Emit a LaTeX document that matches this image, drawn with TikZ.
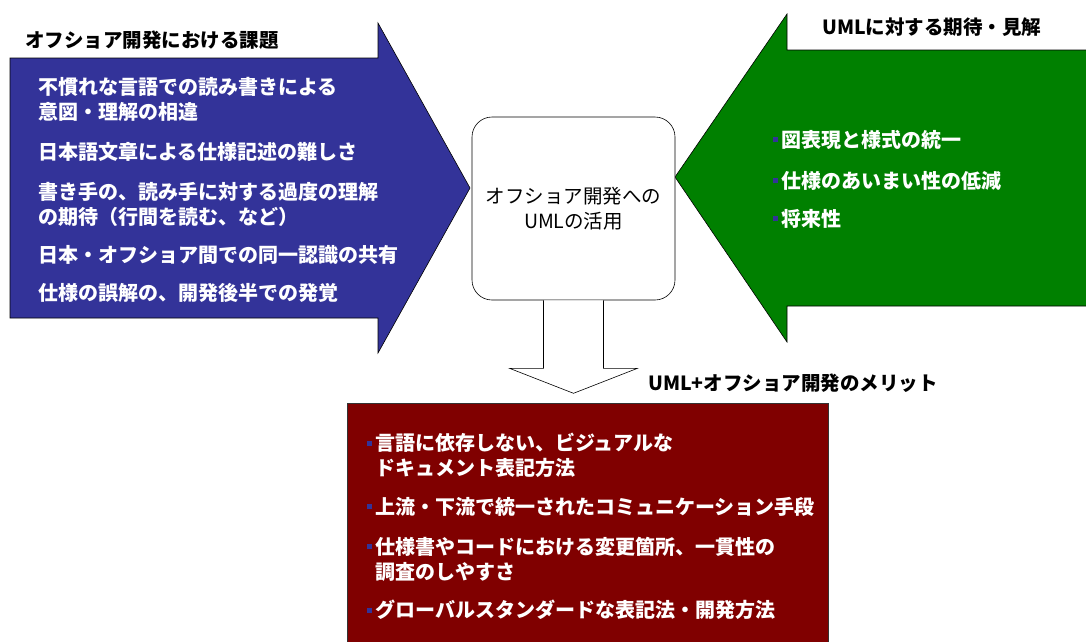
\documentclass[tikz,border=0pt]{standalone}
\usepackage{fontspec}
\setmainfont{Noto Sans CJK JP}
\usepackage{tikz}
\usetikzlibrary{calc}

\definecolor{issueblue}{HTML}{333399}
\definecolor{viewgreen}{HTML}{008000}
\definecolor{meritred}{HTML}{800000}
\newcommand{\bsq}{\textcolor{issueblue}{\rule[0.26em]{0.25em}{0.25em}}\hspace{0.15em}}

\begin{document}
\begin{tikzpicture}[x=1pt,y=-1pt,inner sep=0pt,
                    txt/.style={font=\fontsize{20pt}{25pt}\selectfont\bfseries,
                                text=white,anchor=west,align=left},
                    ttl/.style={font=\fontsize{19.5pt}{25pt}\selectfont\bfseries,
                                anchor=west},
                    semithick]
  \useasboundingbox (0,0) rectangle (1086,641);

  % the three big shapes
  \filldraw[fill=issueblue,draw=black] (10,58) -- (378,58) -- (378,23) -- (470,188)
        -- (378,353) -- (378,318) -- (10,318) -- cycle;
  \filldraw[fill=viewgreen,draw=black] (1095,50) -- (787,50) -- (787,14) -- (675,177)
        -- (787,342) -- (787,306) -- (1095,306);
  \filldraw[fill=meritred,draw=black!80] (347,403) rectangle (828,660);

  \node[draw,rounded corners=20pt,fill=white,minimum width=203pt,minimum height=183pt,
        align=center,font=\fontsize{19.5pt}{25pt}\selectfont] (hub) at (573.5,208.5)
        {オフショア開発への\\UMLの活用};

  \draw[fill=white] ($(hub.south)+(-30,0)$) -- ++(0,68) -- ++(-34,0)
        -- ($(hub.south)+(0,93)$) -- ++(64,-25) -- ++(-34,0) -- ($(hub.south)+(30,0)$);

  % titles
  \node[ttl] (issuetitle) at (25,40)  {オフショア開発における課題};
  \node[ttl] (viewtitle)  at (822,27) {UMLに対する期待・見解};
  \node[ttl] (merittitle) at (648,383) {UML+オフショア開発のメリット};

  % issues
  \node[txt] (issue1) at (38,99.5) {不慣れな言語での読み書きによる\\意図・理解の相違};
  \node[txt] (issue2) at (38,152)  {日本語文章による仕様記述の難しさ};
  \node[txt] (issue3) at (38,204)  {書き手の、読み手に対する過度の理解\\の期待（行間を読む、など）};
  \node[txt] (issue4) at (38,255)  {日本・オフショア間での同一認識の共有};
  \node[txt] (issue5) at (38,293)  {仕様の誤解の、開発後半での発覚};

  % views
  \node[txt] (view1) at (773,140) {\bsq 図表現と様式の統一};
  \node[txt] (view2) at (773,181) {\bsq 仕様のあいまい性の低減};
  \node[txt] (view3) at (773,219) {\bsq 将来性};

  % merits
  \node[txt] (merit1) at (367,455.5) {\bsq 言語に依存しない、ビジュアルな\\\phantom{\bsq}ドキュメント表記方法};
  \node[txt] (merit2) at (367,507)   {\bsq 上流・下流で統一されたコミュニケーション手段};
  \node[txt] (merit3) at (367,559.5) {\bsq 仕様書やコードにおける変更箇所、一貫性の\\\phantom{\bsq}調査のしやすさ};
  \node[txt] (merit4) at (367,610)   {\bsq グローバルスタンダードな表記法・開発方法};
\end{tikzpicture}
\end{document}
